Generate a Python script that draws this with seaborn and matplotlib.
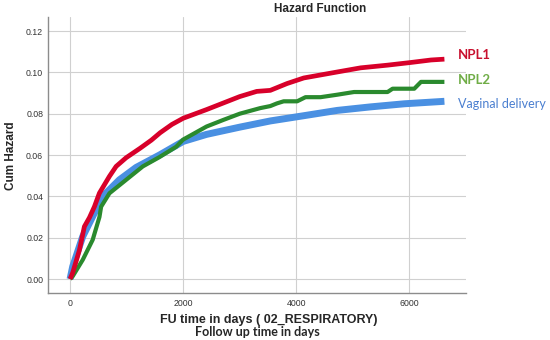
import matplotlib

matplotlib.use("Agg")
import matplotlib.pyplot as plt
import pandas as pd
import seaborn as sns

# Cumulative hazard (time in days, cum hazard)
npl1_t = [0, 46, 165, 253, 342, 430, 519, 696, 814, 991, 1239, 1437, 1593,
          1800, 2000, 2413, 3000, 3300, 3540, 3836, 4132, 4724, 5138, 5613,
          6027, 6382, 6618]
npl1_v = [0, 0.003, 0.014, 0.0254, 0.0297, 0.035, 0.0416, 0.0497, 0.0545,
          0.0587, 0.0633, 0.0672, 0.0708, 0.0748, 0.0778, 0.082, 0.0883,
          0.0908, 0.0913, 0.0946, 0.0973, 0.1002, 0.1022, 0.1035, 0.1048,
          0.106, 0.1064]

npl2_t = [0, 46, 224, 400, 519, 549, 696, 991, 1286, 1580, 1876, 2000, 2413,
          2710, 3000, 3360, 3540, 3658, 3776, 4014, 4162, 4428, 4724, 5020,
          5613, 5702, 6085, 6204, 6618]
npl2_v = [0, 0.0013, 0.0093, 0.019, 0.030, 0.035, 0.0415, 0.048, 0.0545,
          0.059, 0.064, 0.0675, 0.0738, 0.077, 0.080, 0.0827, 0.0837, 0.085,
          0.086, 0.086, 0.088, 0.088, 0.0892, 0.0905, 0.0905, 0.0921, 0.0921,
          0.0954, 0.0954]

vag_t = [0, 46, 224, 400, 577, 872, 1168, 1580, 2000, 2413, 3000, 3540, 4124,
         4724, 5310, 5908, 6618]
vag_v = [0, 0.006, 0.0206, 0.0303, 0.040, 0.048, 0.054, 0.060, 0.0666, 0.070,
         0.0735, 0.0765, 0.079, 0.0816, 0.0833, 0.0848, 0.086]

x_ticks = [0, 2000, 4000, 6000]
y_ticks = [0.00, 0.02, 0.04, 0.06, 0.08, 0.10, 0.12]

groups = ["Vaginal delivery", "NPL2", "NPL1"]
line_colors = {"Vaginal delivery": "#4a90e2", "NPL2": "#2a8a2e", "NPL1": "#d8002a"}
line_widths = {"Vaginal delivery": 5, "NPL2": 3, "NPL1": 3.4}


def build_frame() -> pd.DataFrame:
    parts = []
    for name, t, v in [("Vaginal delivery", vag_t, vag_v),
                       ("NPL2", npl2_t, npl2_v),
                       ("NPL1", npl1_t, npl1_v)]:
        parts.append(pd.DataFrame({"time": t, "hazard": v, "group": name}))
    return pd.concat(parts, ignore_index=True)


def main() -> None:
    sns.set_style("whitegrid")
    plt.rcParams["font.family"] = ["Liberation Sans", "DejaVu Sans"]

    df = build_frame()
    fig = plt.figure(figsize=(5.5, 3.4), dpi=100)
    ax = fig.add_axes([0.0873, 0.138, 0.7600, 0.812])

    # one call per group so each line keeps its own width
    for g in groups:
        sns.lineplot(data=df[df.group == g], x="time", y="hazard", ax=ax,
                     color=line_colors[g], lw=line_widths[g], estimator=None,
                     sort=False, legend=False, solid_capstyle="butt")

    ax.set_xlim(-390, 7000)
    ax.set_ylim(-0.0068, 0.1268)
    ax.set_xticks(x_ticks)
    ax.set_yticks(y_ticks)
    ax.set_yticklabels([f"{v:.2f}" for v in y_ticks])
    ax.tick_params(labelsize=6.3, colors="#333333", length=0)
    ax.tick_params(axis="y", pad=3.5)
    ax.tick_params(axis="x", pad=4.5)
    ax.grid(True, color="#d0d0d0", lw=0.8)
    for side in ["top", "right"]:
        ax.spines[side].set_visible(False)
    for side in ["left", "bottom"]:
        ax.spines[side].set_color("#8c8c8c")
        ax.spines[side].set_linewidth(1.0)
    ax.set_xlabel("")
    ax.set_ylabel("")

    fig.text(320 / 550, 1 - 9 / 340, "Hazard Function", fontsize=8.5,
             fontweight="bold", ha="center", va="center")
    fig.text(11 / 550, 1 - 156 / 340, "Cum Hazard", fontsize=8.5,
             fontweight="bold", rotation=90, ha="center", va="center")
    fig.text(269 / 550, 1 - 320 / 340, "FU time in days ( 02_RESPIRATORY)",
             fontsize=9, fontweight="bold", ha="center", va="center")
    fig.text(257 / 550, 1 - 332 / 340, "Follow up time in days",
             fontsize=9, fontweight="bold", ha="center", va="center",
             family=["Lato", "DejaVu Sans"])

    fig.text(458 / 550, 1 - 55 / 340, "NPL1", fontsize=9.5, fontweight="bold",
             color="#c8102e", va="center", family=["Lato", "DejaVu Sans"])
    fig.text(458 / 550, 1 - 80 / 340, "NPL2", fontsize=9.5, fontweight="bold",
             color="#70ad47", va="center", family=["Lato", "DejaVu Sans"])
    fig.text(458 / 550, 1 - 104 / 340, "Vaginal delivery", fontsize=9,
             color="#4a7fd0", va="center", family=["Lato", "DejaVu Sans"])

    fig.savefig("out.png", dpi=100)


if __name__ == "__main__":
    main()
